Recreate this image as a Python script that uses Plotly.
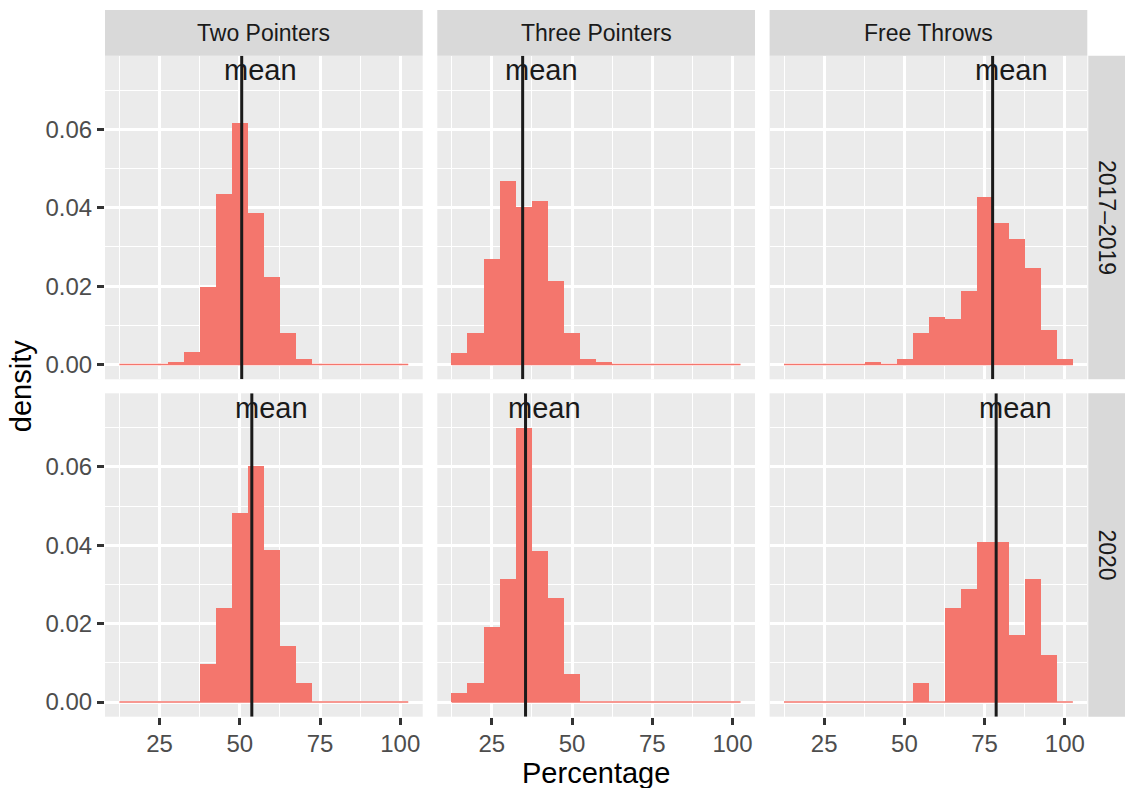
import plotly.graph_objects as go

# ---- data ----
bin_centers = [15, 20, 25, 30, 35, 40, 45, 50, 55, 60, 65, 70, 75, 80, 85, 90, 95, 100]
bin_width = 5
shot_types = ["Two Pointers", "Three Pointers", "Free Throws"]
periods = ["2017–2019", "2020"]

two_2017 = [0, 0, 0, 0.0008, 0.0032, 0.0198, 0.0435, 0.0616, 0.0386, 0.0223, 0.0082, 0.0015, 0, 0, 0, 0, 0, 0]
three_2017 = [0.0031, 0.0082, 0.0271, 0.0468, 0.0402, 0.0419, 0.0213, 0.0082, 0.0015, 0.0008, 0, 0, 0, 0, 0, 0, 0, 0]
free_2017 = [0, 0, 0, 0, 0, 0.0008, 0.0002, 0.0015, 0.0082, 0.0123, 0.0116, 0.0189, 0.0428, 0.0361, 0.0321, 0.0246, 0.0090, 0.0015]
two_2020 = [0, 0, 0, 0, 0, 0.0097, 0.0240, 0.0482, 0.0602, 0.0386, 0.0142, 0.0048, 0, 0, 0, 0, 0, 0]
three_2020 = [0.0022, 0.0048, 0.0191, 0.0313, 0.0699, 0.0385, 0.0265, 0.0071, 0, 0, 0, 0, 0, 0, 0, 0, 0, 0]
free_2020 = [0, 0, 0, 0, 0, 0, 0, 0, 0.0048, 0, 0.0239, 0.0288, 0.0408, 0.0408, 0.0169, 0.0313, 0.0119, 0]

means_2017 = [50.6, 34.6, 77.5]
means_2020 = [53.75, 35.5, 78.6]

x_ticks = [25, 50, 75, 100]
y_ticks = [0.00, 0.02, 0.04, 0.06]
y_tick_text = ["0.00", "0.02", "0.04", "0.06"]

densities = [[two_2017, three_2017, free_2017], [two_2020, three_2020, free_2020]]
means = [means_2017, means_2020]

# ---- layout geometry (pixels) ----
W, H = 1125, 788
col_px = [(105, 422.7), (437.3, 755.0), (769.6, 1087.3)]
row_px = [(55.7, 379.3), (393.3, 716.7)]
strip_top = (10, 55.7)
strip_right = (1088.3, 1134)

def px(x):
    return x / W

def py(y):
    return 1 - y / H

BAR = "#F4766D"
PANEL = "#EBEBEB"
STRIP = "#D9D9D9"
FONT = "Liberation Sans"

fig = go.Figure()
layout = {}

for r in range(2):
    for c in range(3):
        k = r * 3 + c + 1
        xa = "x" if k == 1 else f"x{k}"
        ya = "y" if k == 1 else f"y{k}"
        dens = densities[r][c]
        edge_lo = bin_centers[0] - bin_width / 2
        edge_hi = bin_centers[-1] + bin_width / 2
        fig.add_trace(go.Scatter(x=[edge_lo, edge_hi], y=[0, 0], mode="lines",
                                 line=dict(color=BAR, width=1.5), xaxis=xa, yaxis=ya,
                                 showlegend=False, hoverinfo="skip"))
        fig.add_trace(go.Bar(x=bin_centers, y=dens, width=bin_width, marker=dict(color=BAR, line=dict(width=0)),
                             xaxis=xa, yaxis=ya, showlegend=False))
        m = means[r][c]
        fig.add_trace(go.Scatter(x=[m, m], y=[-0.00375, 0.07875], mode="lines",
                                 line=dict(color="#1A1A1A", width=3), xaxis=xa, yaxis=ya,
                                 showlegend=False, hoverinfo="skip"))
        fig.add_annotation(x=m + 6, y=0.075, xref=xa, yref=ya, text="mean", showarrow=False,
                           font=dict(family=FONT, size=29, color="#1A1A1A"), xanchor="center", yanchor="middle")

        x0, x1 = col_px[c]
        y0, y1 = row_px[r]
        common_grid = dict(showgrid=True, gridcolor="white", gridwidth=2.5, zeroline=False, showline=False,
                           ticklen=7, tickwidth=2.5, tickcolor="#333333",
                           tickfont=dict(family=FONT, size=24, color="#4D4D4D"), automargin=False)
        layout["xaxis" if k == 1 else f"xaxis{k}"] = dict(
            domain=[px(x0), px(x1)], anchor=ya, range=[8, 107],
            tickvals=x_ticks, ticktext=[str(v) for v in x_ticks],
            showticklabels=(r == 1), ticklabelstandoff=-2,
            minor=dict(tickvals=[12.5, 37.5, 62.5, 87.5], showgrid=True, gridcolor="white", gridwidth=1.2, ticks=""),
            ticks="outside" if r == 1 else "",
            **common_grid)
        layout["yaxis" if k == 1 else f"yaxis{k}"] = dict(
            domain=[py(y1), py(y0)], anchor=xa, range=[-0.00375, 0.07875],
            tickvals=y_ticks, ticktext=y_tick_text,
            showticklabels=(c == 0),
            minor=dict(tickvals=[0.01, 0.03, 0.05, 0.07], showgrid=True, gridcolor="white", gridwidth=1.2, ticks=""),
            ticks="outside" if c == 0 else "",
            **common_grid)

shapes = []
annotations = []
for c in range(3):
    x0, x1 = col_px[c]
    shapes.append(dict(type="rect", xref="paper", yref="paper", x0=px(x0), x1=px(x1),
                       y0=py(strip_top[1]), y1=py(strip_top[0]), fillcolor=STRIP, line=dict(width=0), layer="below"))
    annotations.append(dict(xref="paper", yref="paper", x=px((x0 + x1) / 2), y=py((strip_top[0] + strip_top[1]) / 2),
                            text=shot_types[c], showarrow=False, xanchor="center", yanchor="middle",
                            font=dict(family=FONT, size=23, color="#1A1A1A")))
for r in range(2):
    y0, y1 = row_px[r]
    shapes.append(dict(type="rect", xref="paper", yref="paper", x0=px(strip_right[0]), x1=px(strip_right[1]),
                       y0=py(y1), y1=py(y0), fillcolor=STRIP, line=dict(width=0), layer="below"))
    annotations.append(dict(xref="paper", yref="paper", x=px(1106.5), y=py((y0 + y1) / 2),
                            text=periods[r], showarrow=False, xanchor="center", yanchor="middle", textangle=90,
                            font=dict(family=FONT, size=23, color="#1A1A1A")))

annotations.append(dict(xref="paper", yref="paper", x=px((col_px[0][0] + col_px[2][1]) / 2), y=py(773),
                        text="Percentage", showarrow=False, xanchor="center", yanchor="middle",
                        font=dict(family=FONT, size=29, color="black")))
annotations.append(dict(xref="paper", yref="paper", x=px(21), y=py((row_px[0][0] + row_px[1][1]) / 2),
                        text="density", showarrow=False, xanchor="center", yanchor="middle", textangle=-90,
                        font=dict(family=FONT, size=29, color="black")))

fig.update_layout(width=W, height=H, autosize=False, margin=dict(l=0, r=0, t=0, b=0, pad=0),
                  paper_bgcolor="white", plot_bgcolor=PANEL, bargap=0, showlegend=False,
                  shapes=shapes, **layout)
for a in annotations:
    fig.add_annotation(**a)

fig.write_html("out.html", config={"displayModeBar": False},
               post_script="document.body.style.margin='0';document.body.style.overflow='hidden';")
